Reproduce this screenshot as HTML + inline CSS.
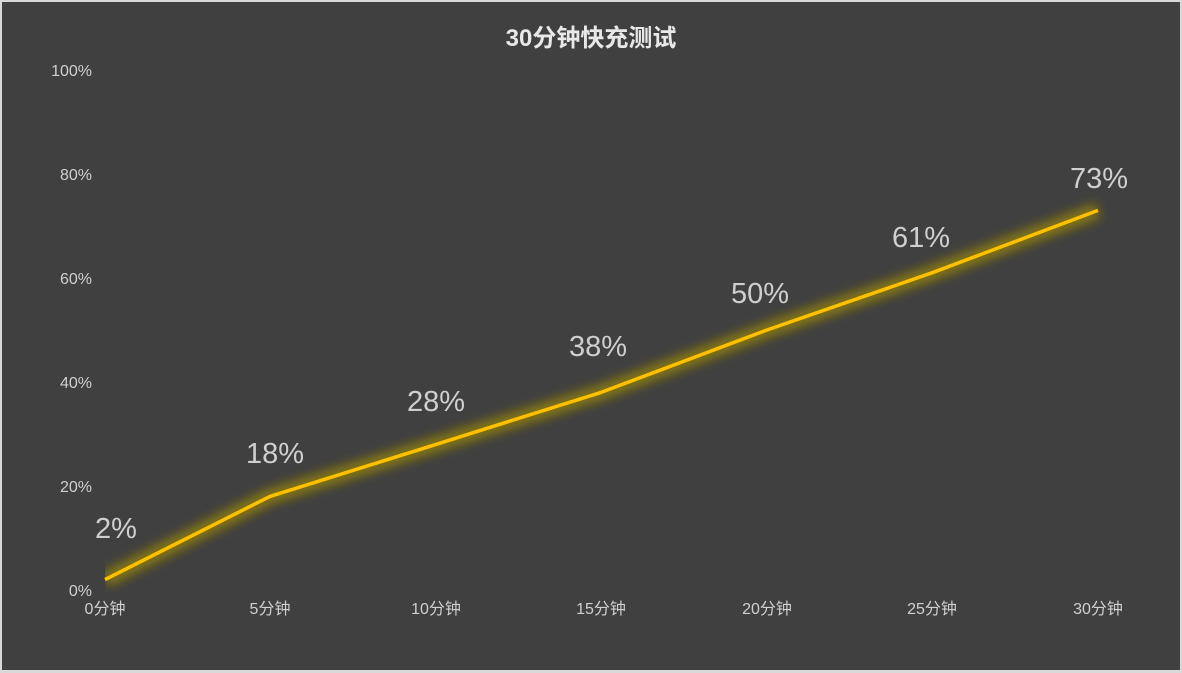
<!DOCTYPE html>
<html><head><meta charset="utf-8"><style>
html,body{margin:0;padding:0;background:#d9d9d9;}
svg{display:block}
</style></head><body>
<svg width="1182" height="673" xmlns="http://www.w3.org/2000/svg" font-family="Liberation Sans, Noto Sans CJK SC, sans-serif">
<defs>
<filter id="g" x="-10%" y="-20%" width="120%" height="140%"><feGaussianBlur stdDeviation="5"/></filter>
<clipPath id="c"><rect x="105" y="0" width="1100" height="673"/></clipPath>
</defs>
<rect x="0" y="0" width="1182" height="673" fill="#d9d9d9"/>
<rect x="2" y="2" width="1178" height="668" fill="#404040"/>
<text x="591" y="46" text-anchor="middle" font-size="24" font-weight="bold" fill="#e8e8e8">30分钟快充测试</text>
<g font-size="16" fill="#d0d0d0" text-anchor="end">
<text x="92" y="76">100%</text><text x="92" y="180">80%</text><text x="92" y="284">60%</text>
<text x="92" y="388">40%</text><text x="92" y="492">20%</text><text x="92" y="596">0%</text>
</g>
<g font-size="16" fill="#d0d0d0" text-anchor="middle">
<text x="105" y="614">0分钟</text><text x="270" y="614">5分钟</text><text x="436" y="614">10分钟</text>
<text x="601" y="614">15分钟</text><text x="767" y="614">20分钟</text><text x="932" y="614">25分钟</text><text x="1098" y="614">30分钟</text>
</g>
<g clip-path="url(#c)">
<polyline points="105,579.6 270,496.4 436,444.4 601,392.4 767,330 932,272.8 1098,210.4" fill="none" stroke="#8a7a10" stroke-width="16" filter="url(#g)" opacity="0.9"/>
</g>
<polyline points="105,579.6 270,496.4 436,444.4 601,392.4 767,330 932,272.8 1098,210.4" fill="none" stroke="#ffc000" stroke-width="3.5" stroke-linejoin="round"/>
<g font-size="29" fill="#cfcfcf" text-anchor="middle">
<text x="116" y="538">2%</text><text x="275" y="463">18%</text><text x="436" y="411">28%</text>
<text x="598" y="356">38%</text><text x="760" y="303">50%</text><text x="921" y="247">61%</text><text x="1099" y="188">73%</text>
</g>
</svg>
</body></html>
